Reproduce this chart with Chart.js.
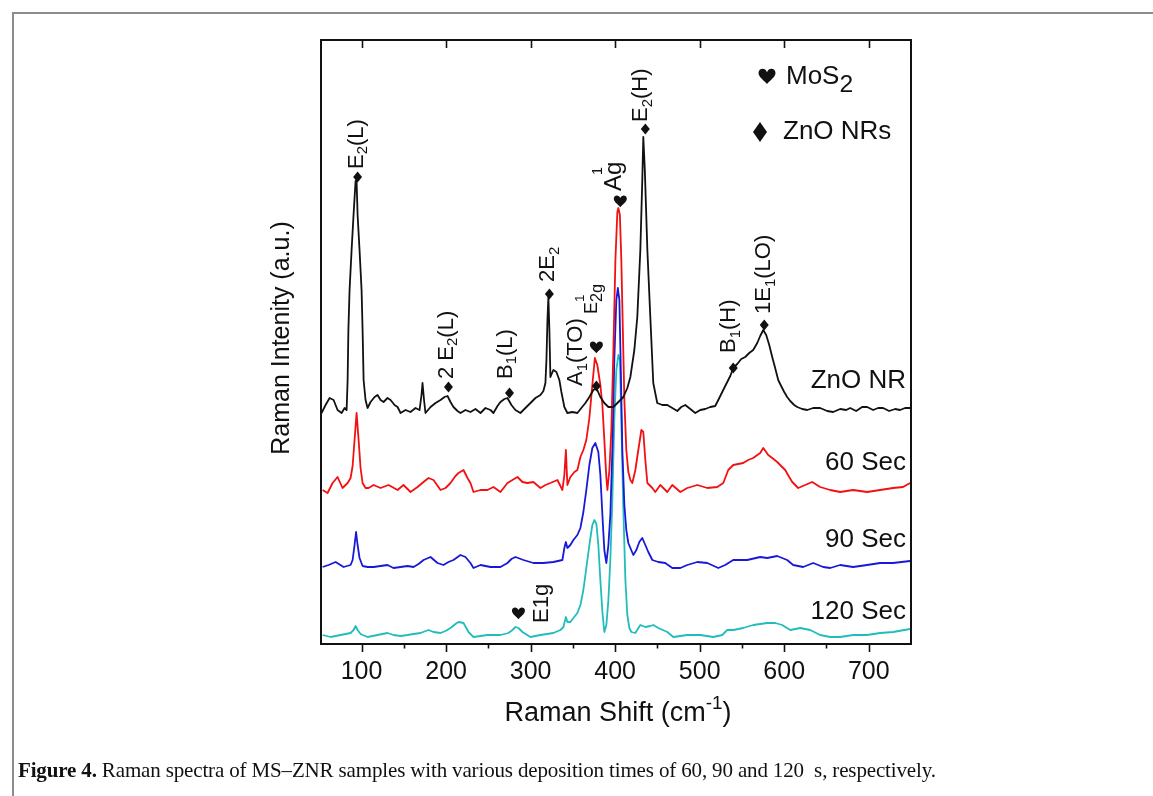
<!DOCTYPE html>
<html><head><meta charset="utf-8">
<script src="https://cdn.jsdelivr.net/npm/chart.js@4.4.1/dist/chart.umd.min.js"></script>
<style>
html,body{margin:0;padding:0;background:#fff;}
#wrap{position:relative;width:1153px;height:796px;overflow:hidden;background:#fff;}
#frame{position:absolute;left:12px;top:12px;width:1300px;height:900px;border-top:2px solid #8c8c8c;border-left:2px solid #8c8c8c;}
#cap{position:absolute;left:18px;top:758px;font-family:"Liberation Serif",serif;font-size:21px;color:#111;white-space:nowrap;letter-spacing:-0.15px;}
canvas{position:absolute;left:0;top:0;}
</style></head><body>
<div id="wrap"><div id="frame"></div><canvas id="c" width="1153" height="796"></canvas>
<div id="cap"><b>Figure 4.</b> Raman spectra of MS–ZNR samples with various deposition times of 60, 90 and 120&nbsp; s, respectively.</div></div>
<script>
// ---- data (Raman shift in cm^-1, intensity in a.u.) ----
const xTickValues = [100,200,300,400,500,600,700];

const znoX = [52.7,57.4,62.2,66.9,71.6,76.4,79.9,82.3,83.5,84.4,85.8,88.2,90.5,92.9,94.1,95.3,97.6,100,101.2,102.4,104.7,107.1,110.6,115.4,118.9,122.5,126,130.7,134.3,139,142.6,146.1,152,157.9,163.8,168.6,170.9,172.1,173.9,175.6,181.6,187.5,193.4,198.1,201.7,205.2,208.7,213.5,217,222.9,228.8,234.7,240.7,246.6,252.5,256,260.8,264.3,269,272.6,277.3,282,287.9,293.8,299.8,305.7,311.6,315.1,317.5,318.7,319.9,321,322.2,323.4,326.9,330.5,334,336.4,339.9,343.5,349.4,355.3,360,364.8,369.5,374.2,377.8,382.5,387.2,392,397.9,403.8,409.7,414.4,418,422.7,426.2,429.8,432.1,433.3,435.1,438.1,441.6,445.1,449.8,455.7,461.7,467.6,473.5,478.2,483,488.9,494.8,500.7,506.6,512.5,518.4,522,526.7,531.4,536.2,539.7,544.4,549.2,553.9,558.6,563.3,568.1,571.6,575.2,578.7,582.3,585.8,589.3,592.9,596.4,600,603.5,607.1,611.8,615.4,621.3,627.2,634.3,642.5,650.8,657.9,666.2,673.3,678,685.1,692.2,698.1,705.2,711.1,717,724.1,731.2,737.1,743,748.9];
const znoY = [231,239,246,244,234,231,236,234,264,314,354,394,429,463,463,429,394,354,314,264,244,236,242,247,249,244,242,246,244,239,237,231,234,232,236,234,249,261,244,231,237,241,244,247,248,242,237,233,231,234,232,235,231,236,234,231,238,242,245,246,239,234,231,236,241,246,249,253,261,284,324,347,314,267,274,272,264,252,237,231,232,231,236,241,247,254,256,247,241,237,237,242,247,256,267,294,327,394,464,507,474,394,327,261,241,239,239,236,233,237,239,235,231,234,235,237,238,244,252,260,268,276,280,285,287,291,294,301,308,314,309,299,287,276,264,258,252,247,243,239,237,235,234,236,236,233,232,235,234,236,233,237,237,234,236,236,233,235,234,236,236];

const s60X = [53.9,59.8,65.7,71.6,77.5,83.5,87,89.4,91.7,94.1,96.5,98.8,101.2,104.7,108.3,114.2,122.5,131.9,142.6,149.6,157.9,166.2,173.3,179.2,185.1,193.4,199.3,205.2,211.1,214.7,220.6,225.3,228.8,232.4,240.7,248.9,256,264.3,272.6,278.5,284.4,290.3,296.2,303.3,311.6,317.5,323.4,331.7,337.6,339.9,341.7,343.5,347,351.8,355.3,358.9,362.4,365.9,369.5,373,376,378.9,382.5,384.9,387.2,389.6,390.8,393.2,395.5,397.9,400.3,402.6,403.8,405.6,407.3,409.1,410.9,413.2,415.6,418,420.3,423.9,427.4,431,433.3,435.7,438.1,444,447.5,453.4,461.7,467.6,477.1,485.3,497.2,509,520.8,527.9,533.8,539.7,545.6,551.5,557.4,563.3,568.1,571.6,575.2,578.7,581.1,585.8,591.7,596.4,601.2,605.9,609.5,616.5,624.8,633.1,642.5,654.4,666.2,681.5,698.1,713.4,728.8,740.6,748.9];
const s60Y = [154,151,161,167,156,161,166,178,204,231,204,176,161,156,156,159,156,159,154,159,152,157,162,166,164,154,156,161,168,171,174,166,161,152,154,154,157,152,161,164,167,162,161,162,156,159,161,164,154,169,194,159,167,172,174,187,194,204,226,259,286,279,259,239,204,166,154,174,214,294,384,432,436,429,384,314,244,194,172,164,161,174,194,214,212,184,161,156,152,159,152,159,152,156,159,156,157,161,174,179,180,181,184,186,189,191,196,192,189,186,182,178,174,167,162,156,159,162,157,154,152,154,152,154,156,157,161];

const s90X = [53.9,61,69.3,78.7,87,89.4,91.7,93.5,95.3,97.6,101.2,107.1,114.2,122.5,130.7,137.8,146.1,154.4,161.5,167.4,173.3,181.6,189.8,196.9,202.8,208.7,217,222.9,228.8,232.4,240.7,252.5,264.3,272.6,277.3,282,291.5,303.3,315.1,326.9,337.6,339.9,341.7,343.5,347,350.6,355.3,358.9,362.4,365.9,369.5,373,376.6,380.1,382.5,384.9,387.2,389.6,392,394.3,396.7,399,401.4,403.2,405,406.7,408.5,410.9,413.2,415.6,418,421.5,425.1,428.6,432.1,435.7,439.2,444,451.1,459.3,467.6,477.1,485.3,497.2,509,522,530.2,539.7,556.3,571.6,579.9,591.7,603.5,610.6,622.4,634.3,646.1,654.4,666.2,681.5,698.1,713.4,728.8,748.9];
const s90Y = [77,79,82,77,79,84,99,112,99,86,78,77,77,78,79,76,77,78,77,80,84,87,81,79,82,84,89,87,81,76,79,77,77,81,85,87,84,81,81,82,84,96,102,96,99,104,109,116,132,154,179,196,201,192,169,129,94,81,99,129,194,284,344,356,344,274,194,139,114,101,96,89,94,102,106,99,92,84,82,81,76,76,79,82,81,76,79,84,84,87,86,88,84,79,77,81,77,76,79,77,79,81,81,83];

const s120X = [53.9,63.4,75.2,87,90.5,92.9,95.3,98.8,107.1,118.9,130.7,137.8,146.1,154.4,161.5,169.7,179.2,185.1,193.4,199.3,205.2,211.1,214.7,220.6,226.5,232.4,240.7,248.9,264.3,273.8,278.5,282,285.6,290.3,299.8,311.6,326.9,335.2,338.8,341.7,343.5,347,350.6,355.3,358.9,362.4,365.9,369.5,373,375.4,377.8,380.1,382.5,384.9,387.2,389.6,392,394.3,396.7,399,401.4,403.8,405.6,407.3,409.7,412.1,414.4,416.8,419.1,423.9,429.8,435.7,441.6,445.1,451.1,461.7,468.8,485.3,500.7,516.1,526.7,532.6,539.7,551.5,563.3,579.9,589.3,597.6,607.1,618.9,630.7,642.5,654.4,666.2,681.5,698.1,713.4,728.8,748.9];
const s120Y = [9,7,9,11,14,18,14,10,7,9,11,9,8,9,10,11,14,12,11,13,16,20,22,21,12,7,8,9,9,11,14,17,16,12,7,9,11,14,17,27,22,22,26,31,39,54,76,99,119,124,120,99,64,32,12,19,44,84,144,224,274,289,284,224,134,64,29,16,12,11,19,17,18,19,16,12,7,9,9,7,9,14,14,16,19,21,21,19,14,16,14,9,7,7,9,9,11,12,15];

const seriesNames = ['ZnO NR','60 Sec','90 Sec','120 Sec'];
const seriesColors = ['#111111','#f21010','#1818d8','#22bcbc'];
// peak assignments: position (cm^-1), intensity at the marker, marker type (d = ZnO, h = MoS2)
const peakMarks = [
  {x:95.3, y:467, m:'d', label:[{t:'E'},{t:'2',sub:1},{t:'(L)'}], dx:-1, dy:-8, size:22},
  {x:202.8, y:257, m:'d', label:[{t:'2 E'},{t:'2',sub:1},{t:'(L)'}], dx:-2, dy:-8, size:22},
  {x:275, y:251, m:'d', label:[{t:'B'},{t:'1',sub:1},{t:'(L)'}], dx:-4, dy:-14, size:22},
  {x:322.2, y:350, m:'d', label:[{t:'2E'},{t:'2',sub:1}], dx:-1, dy:-12, size:22},
  {x:377.8, y:258, m:'d', label:[{t:'A'},{t:'1',sub:1},{t:'(TO)'}], dx:-20, dy:0, size:22},
  {x:377.8, y:297, m:'h', label:[{t:'E'},{t:'1',sup:1,stack:1,scale:0.75,rise:0.68},{t:'2g',sub:1,scale:0.9}], dx:-4, dy:-33, size:18},
  {x:406.1, y:443, m:'h', label:[{t:'A'},{t:'1',sup:1,stack:1,scale:0.6,rise:0.68},{t:'g'}], dx:-6, dy:-10, size:24},
  {x:435.7, y:515, m:'d', label:[{t:'E'},{t:'2',sub:1},{t:'(H)'}], dx:-4, dy:-7, size:22},
  {x:539.7, y:276, m:'d', label:[{t:'B'},{t:'1',sub:1},{t:'(H)'}], dx:-4, dy:-15, size:22},
  {x:576.4, y:319, m:'d', label:[{t:'1E'},{t:'1',sub:1},{t:'(LO)'}], dx:0, dy:-11, size:22},
  {x:285.6, y:31, m:'h', label:[{t:'E1g'}], dx:23, dy:10, size:22}
];

const FAM = '"Liberation Sans", Arial, sans-serif';

function mk(xs, ys){ return xs.map((v,i)=>({x:v, y:ys[i]})); }

function diamond(ctx, cx, cy, hw, hh){
  ctx.beginPath(); ctx.moveTo(cx, cy-hh); ctx.lineTo(cx+hw, cy); ctx.lineTo(cx, cy+hh); ctx.lineTo(cx-hw, cy); ctx.closePath(); ctx.fill();
}
function heart(ctx, cx, cy, s){
  const w = s/2;
  ctx.beginPath();
  ctx.moveTo(cx, cy + w*0.95);
  ctx.bezierCurveTo(cx - w*0.3, cy + w*0.55, cx - w, cy + w*0.15, cx - w, cy - w*0.35);
  ctx.bezierCurveTo(cx - w, cy - w*0.95, cx - w*0.2, cy - w*1.05, cx, cy - w*0.45);
  ctx.bezierCurveTo(cx + w*0.2, cy - w*1.05, cx + w, cy - w*0.95, cx + w, cy - w*0.35);
  ctx.bezierCurveTo(cx + w, cy + w*0.15, cx + w*0.3, cy + w*0.55, cx, cy + w*0.95);
  ctx.fill();
}
function drawParts(ctx, parts, size, measureOnly){
  let xp = 0;
  for (const p of parts){
    const fs = (p.sub||p.sup) ? size*(p.scale||0.68) : size;
    ctx.font = fs + 'px ' + FAM;
    const dy = p.sub ? size*0.3 : (p.sup ? -size*(p.rise||0.4) : 0);
    if (!measureOnly) ctx.fillText(p.t, xp, dy);
    if (!p.stack) xp += ctx.measureText(p.t).width;
  }
  return xp;
}

const deco = {
  id:'deco',
  afterDraw(chart){
    const {ctx, chartArea:a, scales:{x, y}} = chart;
    ctx.save();
    ctx.fillStyle = '#111'; ctx.strokeStyle = '#111';
    // frame
    ctx.lineWidth = 2;
    ctx.strokeRect(a.left, a.top, a.right - a.left, a.bottom - a.top);
    // ticks (major at labelled values, minor halfway)
    ctx.lineWidth = 1.6;
    x.ticks.forEach(t=>{
      const px = Math.round(x.getPixelForValue(t.value)) + 0.5;
      ctx.beginPath(); ctx.moveTo(px, a.bottom); ctx.lineTo(px, a.bottom + 8); ctx.stroke();
      ctx.beginPath(); ctx.moveTo(px, a.top); ctx.lineTo(px, a.top + 8); ctx.stroke();
      const pm = Math.round(x.getPixelForValue(t.value + 50)) + 0.5;
      if (pm < a.right - 2){ ctx.beginPath(); ctx.moveTo(pm, a.bottom); ctx.lineTo(pm, a.bottom + 4.5); ctx.stroke(); }
    });
    // y title
    ctx.save();
    ctx.translate(282, 338); ctx.rotate(-Math.PI/2);
    ctx.font = '25px ' + FAM; ctx.textAlign = 'center'; ctx.textBaseline = 'middle';
    ctx.fillText('Raman Intenity (a.u.)', 0, 0);
    ctx.restore();
    // x title
    ctx.save();
    ctx.textAlign = 'left'; ctx.textBaseline = 'middle';
    const xt = [{t:'Raman Shift (cm'},{t:'-1',sup:1,scale:0.7,rise:0.36},{t:')'}];
    const w = drawParts(ctx, xt, 27, true);
    ctx.translate((a.left + a.right)/2 + 2 - w/2, 714);
    drawParts(ctx, xt, 27, false);
    ctx.restore();
    // peak labels
    ctx.textAlign = 'left'; ctx.textBaseline = 'middle';
    for (const pk of peakMarks){
      const px = x.getPixelForValue(pk.x), py = y.getPixelForValue(pk.y);
      if (pk.m === 'd') diamond(ctx, px, py, 4.5, 5.5); else heart(ctx, px, py, 13);
      ctx.save();
      ctx.translate(px + pk.dx, py + pk.dy); ctx.rotate(-Math.PI/2);
      drawParts(ctx, pk.label, pk.size, false);
      ctx.restore();
    }
    // series labels
    ctx.font = '26px ' + FAM; ctx.textAlign = 'right'; ctx.textBaseline = 'middle';
    const sy = [381, 463, 540, 612];
    seriesNames.forEach((n,i)=>ctx.fillText(n, 906, sy[i]));
    // legend
    ctx.textAlign = 'left';
    heart(ctx, 767, 76, 17);
    ctx.save(); ctx.translate(786, 77); drawParts(ctx, [{t:'MoS'},{t:'2',sub:1,scale:0.95}], 26, false); ctx.restore();
    diamond(ctx, 760, 132, 7, 10);
    ctx.font = '26px ' + FAM; ctx.fillText('ZnO NRs', 783, 132);
    ctx.restore();
  }
};

const sets = [[znoX,znoY],[s60X,s60Y],[s90X,s90Y],[s120X,s120Y]];
new Chart(document.getElementById('c'), {
  type:'line',
  data:{ datasets: sets.map((s,i)=>({
    label: seriesNames[i], data: mk(s[0], s[1]), borderColor: seriesColors[i], backgroundColor: seriesColors[i],
    borderWidth: 1.8, pointRadius: 0, tension: 0, borderJoinStyle:'round', fill:false
  })) },
  options:{
    responsive:false, animation:false, events:[],
    layout:{padding:{left:321, top:40, right:242, bottom:0}},
    plugins:{legend:{display:false}, tooltip:{enabled:false}},
    scales:{
      x:{type:'linear', min:52, max:750,
         afterBuildTicks(s){ s.ticks = xTickValues.map(v=>({value:v})); },
         afterFit(s){ s.height = 152; },
         grid:{display:false, drawTicks:false}, border:{display:false},
         ticks:{padding:13, color:'#111', maxRotation:0, autoSkip:false,
                callback:(v)=>String(v),
                font:{family:'"Liberation Sans", Arial, sans-serif', size:25}}},
      y:{min:0, max:604, display:false}
    }
  },
  plugins:[deco]
});
</script>
</body></html>
